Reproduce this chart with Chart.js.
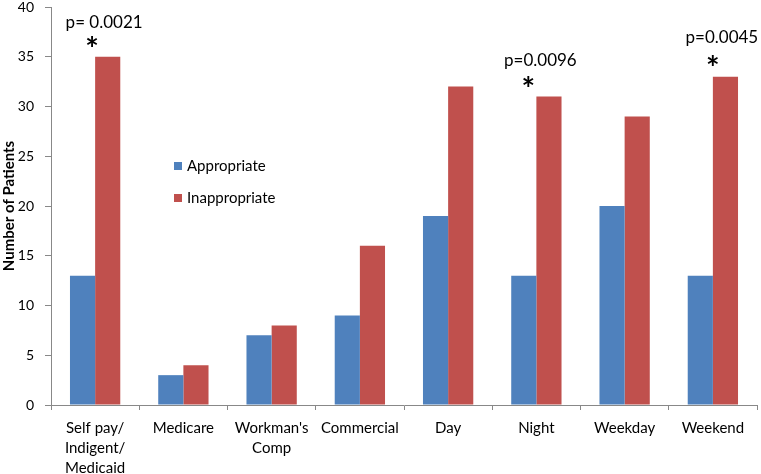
<!DOCTYPE html>
<html>
<head>
<meta charset="utf-8">
<script src="https://cdn.jsdelivr.net/npm/chart.js@4"></script>
<style>
  html, body { margin: 0; padding: 0; background: #fff; }
  #wrap { width: 761px; height: 474px; }
</style>
</head>
<body>
<div id="wrap"><canvas id="chart" width="761" height="474"></canvas></div>
<script>
const categories = [
    ["Self pay/", "Indigent/", "Medicaid"],
    "Medicare",
    ["Workman's", "Comp"],
    "Commercial",
    "Day",
    "Night",
    "Weekday",
    "Weekend"
];
const appropriate = [13, 3, 7, 9, 19, 13, 20, 13];
const inappropriate = [35, 4, 8, 16, 32, 31, 29, 33];
const yTicks = [0, 5, 10, 15, 20, 25, 30, 35, 40];
const pLabels = ["p= 0.0021", "p=0.0096", "p=0.0045"];
const pCategories = [0, 5, 7];

// where each p-value label and star sits (pixel offsets from the category centre / bar top)
const pStyle = [
    { textDx: 9, textDy: -34, starDx: -3, starDy: -14 },
    { textDx: 4, textDy: -36, starDx: -8, starDy: -14 },
    { textDx: 9, textDy: -39, starDx: 0, starDy: -15 }
];

const font = "Lato, 'Open Sans', sans-serif";

const annotations = {
    id: "annotations",
    afterDatasetsDraw(chart) {
        const ctx = chart.ctx;
        const x = chart.scales.x, y = chart.scales.y;
        ctx.save();
        ctx.fillStyle = "#000";
        ctx.textAlign = "center";
        ctx.textBaseline = "middle";
        pCategories.forEach((c, i) => {
            const cx = x.getPixelForValue(c);
            const top = y.getPixelForValue(inappropriate[c]);
            const s = pStyle[i];
            ctx.font = "17px " + font;
            ctx.fillText(pLabels[i], cx + s.textDx, top + s.textDy);
            ctx.font = "bold 32px " + font;
            ctx.fillText("*", cx + s.starDx, top + s.starDy + 8);
        });

        // legend inside the plot
        const items = chart.data.datasets;
        ctx.textAlign = "left";
        ctx.font = "15px " + font;
        items.forEach((d, i) => {
            const ly = 166 + i * 32;
            ctx.fillStyle = d.backgroundColor;
            ctx.fillRect(174, ly - 4, 8, 8);
            ctx.fillStyle = "#000";
            ctx.fillText(d.label, 187, ly);
        });
        ctx.restore();
    }
};

new Chart(document.getElementById("chart"), {
    type: "bar",
    data: {
        labels: categories,
        datasets: [
            { label: "Appropriate", data: appropriate, backgroundColor: "#4F81BD" },
            { label: "Inappropriate", data: inappropriate, backgroundColor: "#C0504D" }
        ]
    },
    options: {
        responsive: false,
        animation: false,
        devicePixelRatio: 1,
        layout: { padding: { top: 7, right: 4, left: 0, bottom: 0 } },
        datasets: { bar: { categoryPercentage: 0.57, barPercentage: 1 } },
        plugins: {
            legend: { display: false },
            tooltip: { enabled: false }
        },
        scales: {
            x: {
                grid: { drawOnChartArea: false, offset: true, tickLength: 5, color: "#888" },
                border: { color: "#888" },
                ticks: {
                    color: "#000",
                    font: { family: font, size: 15, lineHeight: 1.33 },
                    maxRotation: 0,
                    autoSkip: false,
                    padding: 8
                },
                afterFit(scale) { scale.height = 69; }
            },
            y: {
                min: 0,
                max: 40,
                afterBuildTicks(scale) { scale.ticks = yTicks.map(v => ({ value: v })); },
                grid: { drawOnChartArea: false, tickLength: 6, color: "#888" },
                border: { color: "#888" },
                ticks: {
                    color: "#000",
                    font: { family: font, size: 14 },
                    padding: 11
                },
                title: {
                    display: true,
                    text: "Number of Patients",
                    color: "#000",
                    font: { family: font, size: 15, weight: "bold" },
                    padding: { top: 0, bottom: 0 }
                },
                afterFit(scale) {
                    scale.width = 51;
                    scale.paddingTop = 0;
                    scale.paddingBottom = 0;
                }
            }
        }
    },
    plugins: [annotations]
});
</script>
</body>
</html>
